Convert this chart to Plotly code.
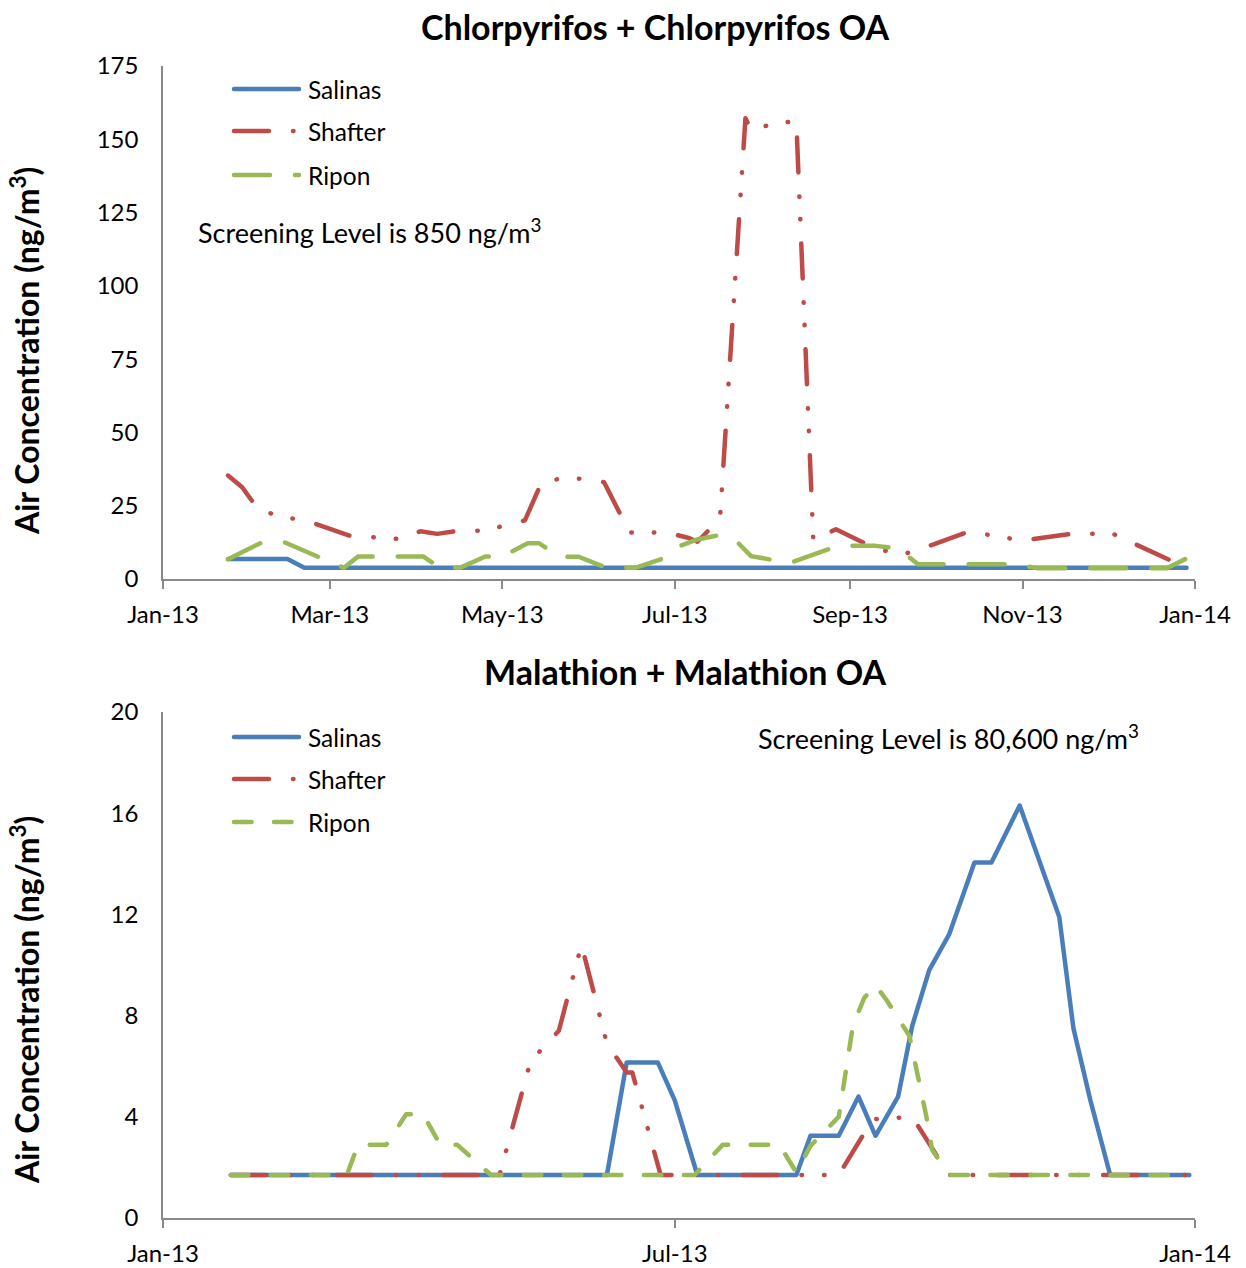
import plotly.graph_objects as go

W, H = 1246, 1268

# ---------------- data: Chlorpyrifos + Chlorpyrifos OA (ng/m3) ----------------
chl_salinas_dates = ["2013-01-24", "2013-02-14", "2013-02-20", "2013-12-29"]
chl_salinas = [6.8, 6.8, 3.8, 3.8]

chl_shafter_dates = ["2013-01-24", "2013-01-29", "2013-02-04", "2013-02-24", "2013-03-08",
                     "2013-03-26", "2013-04-02", "2013-04-08", "2013-04-16", "2013-04-25",
                     "2013-05-02", "2013-05-09", "2013-05-15", "2013-05-23", "2013-05-31",
                     "2013-06-06", "2013-06-15", "2013-06-28", "2013-07-06", "2013-07-09",
                     "2013-07-17", "2013-07-26", "2013-07-28", "2013-08-06", "2013-08-13",
                     "2013-08-19", "2013-08-27", "2013-09-11", "2013-09-21", "2013-09-25",
                     "2013-10-13", "2013-11-01", "2013-11-18", "2013-12-03", "2013-12-09",
                     "2013-12-28"]
chl_shafter = [35.3, 31.3, 23.3, 18.8, 14.8, 13.6, 16.3, 15.4, 16.5, 16.5,
               18.3, 20.0, 33.2, 34.4, 34.1, 33.0, 15.9, 15.9, 14.0, 12.7,
               20.6, 157.2, 153.0, 155.7, 156.0, 13.1, 17.0, 9.9, 8.8, 9.9,
               16.2, 13.1, 15.4, 15.4, 12.7, 4.3]

chl_ripon_dates = ["2013-01-24", "2013-02-05", "2013-02-13", "2013-03-06", "2013-03-11",
                   "2013-04-03", "2013-04-09", "2013-04-16", "2013-04-25", "2013-05-01",
                   "2013-05-10", "2013-05-14", "2013-05-21", "2013-05-28", "2013-06-07",
                   "2013-06-17", "2013-06-26", "2013-07-02", "2013-07-09", "2013-07-17",
                   "2013-07-23", "2013-07-28", "2013-08-07", "2013-08-12", "2013-08-28",
                   "2013-09-02", "2013-09-10", "2013-09-18", "2013-09-25", "2013-10-30",
                   "2013-11-06", "2013-12-22", "2013-12-29"]
chl_ripon = [6.7, 12.5, 12.5, 3.8, 7.7, 7.7, 3.8, 3.8, 7.7, 7.7,
             12.2, 12.2, 7.6, 7.6, 3.8, 3.8, 6.7, 11.0, 13.5, 15.0,
             12.7, 7.8, 6.1, 5.9, 11.4, 11.4, 11.3, 10.5, 5.0, 5.0,
             3.7, 3.7, 7.0]

# ---------------- data: Malathion + Malathion OA (ng/m3) ----------------
mal_salinas_dates = ["2013-01-25", "2013-06-07", "2013-06-14", "2013-06-25", "2013-07-01",
                     "2013-07-09", "2013-08-13", "2013-08-18", "2013-08-28", "2013-09-04",
                     "2013-09-10", "2013-09-18", "2013-09-23", "2013-09-29", "2013-10-06",
                     "2013-10-15", "2013-10-21", "2013-10-31", "2013-11-14", "2013-11-19",
                     "2013-11-25", "2013-12-02", "2013-12-30"]
mal_salinas = [1.7, 1.7, 6.15, 6.15, 4.65, 1.7, 1.7, 3.25, 3.25, 4.8,
               3.25, 4.8, 7.6, 9.8, 11.2, 14.05, 14.05, 16.3, 11.9, 7.5,
               4.65, 1.7, 1.7]

mal_shafter_dates = ["2013-01-25", "2013-04-30", "2013-05-11", "2013-05-21", "2013-05-29",
                     "2013-06-07", "2013-06-14", "2013-06-16", "2013-06-26", "2013-08-28",
                     "2013-09-09", "2013-09-23", "2013-10-06", "2013-12-29"]
mal_shafter = [1.7, 1.7, 6.2, 7.4, 10.8, 6.9, 5.75, 5.75, 1.7, 1.7,
               3.9, 4.0, 1.7, 1.7]

mal_ripon_dates = ["2013-01-25", "2013-03-07", "2013-03-11", "2013-03-21", "2013-03-28",
                   "2013-04-03", "2013-04-09", "2013-04-15", "2013-04-27", "2013-07-08",
                   "2013-07-18", "2013-08-07", "2013-08-13", "2013-08-18", "2013-08-28",
                   "2013-09-02", "2013-09-06", "2013-09-10", "2013-09-14", "2013-09-22",
                   "2013-09-28", "2013-09-30", "2013-10-06", "2013-12-29"]
mal_ripon = [1.7, 1.7, 2.9, 2.9, 4.1, 4.1, 2.9, 2.9, 1.7, 1.7,
             2.9, 2.9, 1.8, 2.85, 4.0, 7.6, 8.7, 9.2, 8.6, 7.2,
             4.0, 2.7, 1.7, 1.7]

site_names = ["Salinas", "Shafter", "Ripon"]
top_x_tickvals = ["2013-01-01", "2013-03-01", "2013-05-01", "2013-07-01",
                  "2013-09-01", "2013-11-01", "2014-01-01"]
top_x_ticktext = ["Jan-13", "Mar-13", "May-13", "Jul-13", "Sep-13", "Nov-13", "Jan-14"]
bot_x_tickvals = ["2013-01-01", "2013-07-01", "2014-01-01"]
bot_x_ticktext = ["Jan-13", "Jul-13", "Jan-14"]
top_y_ticks = [0, 25, 50, 75, 100, 125, 150, 175]
bot_y_ticks = [0, 4, 8, 12, 16, 20]

# ---------------- styles ----------------
colors = ["#4A7EBB", "#BE4B48", "#98B954"]
LW = 4.5
dash_top = ["solid", "35px,24px,0.5px,22px,0.5px,24px", "36px,25px"]
dash_bot = ["solid", "35px,24px,0.5px,22px,0.5px,24px", "17.5px,22.5px"]
FONT = "Lato, 'Open Sans', sans-serif"
AXIS_GRAY = "#898989"
TICK_SIZE = 24
LEG_SIZE = 24.5
NOTE_SIZE = 27
TITLE_SIZE = 34
YTITLE_SIZE = 32


def px(x):
    return x / W


def py(y):
    return 1 - y / H


fig = go.Figure()

series_top = [(chl_salinas_dates, chl_salinas), (chl_shafter_dates, chl_shafter),
              (chl_ripon_dates, chl_ripon)]
series_bot = [(mal_salinas_dates, mal_salinas), (mal_shafter_dates, mal_shafter),
              (mal_ripon_dates, mal_ripon)]

for i, (d, v) in enumerate(series_top):
    fig.add_trace(go.Scatter(x=d, y=v, mode="lines", name=site_names[i], showlegend=False,
                             line=dict(color=colors[i], width=LW, dash=dash_top[i]),
                             xaxis="x", yaxis="y", hoverinfo="skip"))
for i, (d, v) in enumerate(series_bot):
    fig.add_trace(go.Scatter(x=d, y=v, mode="lines", name=site_names[i], showlegend=False,
                             line=dict(color=colors[i], width=LW, dash=dash_bot[i]),
                             xaxis="x2", yaxis="y2", hoverinfo="skip"))

xdom = [px(163), px(1195)]
axis_common = dict(showgrid=False, zeroline=False, showline=True, linecolor=AXIS_GRAY,
                   linewidth=1.5, automargin=False,
                   tickfont=dict(family=FONT, size=TICK_SIZE, color="#000"))
xaxis_common = dict(type="date", range=["2013-01-01", "2014-01-01"], ticks="outside",
                    ticklen=8, tickwidth=1.5, tickcolor=AXIS_GRAY, ticklabelstandoff=5,
                    domain=xdom, **axis_common)
yaxis_common = dict(ticks="", ticklabelstandoff=18, **axis_common)

fig.update_layout(
    template="none",
    width=W, height=H, margin=dict(l=0, r=0, t=0, b=0, pad=0, autoexpand=False),
    paper_bgcolor="white", plot_bgcolor="white", showlegend=False,
    xaxis=dict(anchor="y", tickvals=top_x_tickvals, ticktext=top_x_ticktext, **xaxis_common),
    yaxis=dict(domain=[py(579), py(66)], anchor="x", range=[0, 175], tickvals=top_y_ticks,
               **yaxis_common),
    xaxis2=dict(anchor="y2", tickvals=bot_x_tickvals, ticktext=bot_x_ticktext, **xaxis_common),
    yaxis2=dict(domain=[py(1218), py(712)], anchor="x2", range=[0, 20], tickvals=bot_y_ticks,
                **yaxis_common),
)

ann = []
shapes = []
# titles
ann.append(dict(text="<b>Chlorpyrifos + Chlorpyrifos OA</b>", x=px(655), y=py(27),
                xref="paper", yref="paper", showarrow=False, xanchor="center", yanchor="middle",
                font=dict(family=FONT, size=TITLE_SIZE, color="#000")))
ann.append(dict(text="<b>Malathion + Malathion OA</b>", x=px(685), y=py(671),
                xref="paper", yref="paper", showarrow=False, xanchor="center", yanchor="middle",
                font=dict(family=FONT, size=TITLE_SIZE, color="#000")))
# y-axis titles
for yc in (351, 1000):
    ann.append(dict(text="<b>Air Concentration (ng/m<sup>3</sup>)</b>", x=px(25), y=py(yc),
                    xref="paper", yref="paper", showarrow=False, textangle=-90,
                    xanchor="center", yanchor="middle",
                    font=dict(family=FONT, size=YTITLE_SIZE, color="#000")))
# screening levels
ann.append(dict(text="Screening Level is 850 ng/m<sup>3</sup>", x=px(196), y=py(231),
                xref="paper", yref="paper", showarrow=False, xanchor="left", yanchor="middle",
                font=dict(family=FONT, size=NOTE_SIZE, color="#000")))
ann.append(dict(text="Screening Level is 80,600 ng/m<sup>3</sup>", x=px(756), y=py(737),
                xref="paper", yref="paper", showarrow=False, xanchor="left", yanchor="middle",
                font=dict(family=FONT, size=NOTE_SIZE, color="#000")))

# legends (drawn manually to reproduce the long legend keys)
for rows, dashes in (([89, 131, 175], dash_top), ([737, 779, 822], dash_bot)):
    for i, yy in enumerate(rows):
        shapes.append(dict(type="line", xref="paper", yref="paper",
                           x0=px(234), x1=px(299), y0=py(yy), y1=py(yy),
                           line=dict(color=colors[i], width=LW, dash=dashes[i])))
        ann.append(dict(text=site_names[i], x=px(306), y=py(yy), xref="paper", yref="paper",
                        showarrow=False, xanchor="left", yanchor="middle",
                        font=dict(family=FONT, size=LEG_SIZE, color="#000")))

fig.update_layout(annotations=ann, shapes=shapes)

post = ("document.body.style.margin='0';document.body.style.overflow='hidden';"
        "var s=document.createElement('style');"
        "s.innerHTML='.scatterlayer .js-line, .shapelayer path{stroke-linecap:round;stroke-linejoin:round;}';"
        "document.head.appendChild(s);")
fig.write_html("out.html", post_script=post, config={"displayModeBar": False})
